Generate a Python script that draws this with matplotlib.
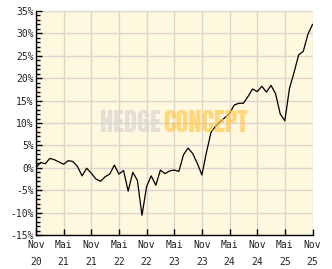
import matplotlib
matplotlib.use("Agg")
import matplotlib.pyplot as plt
import numpy as np

# Monthly performance (%) from Nov 2020 to Nov 2025
values = [0.0, 1.2, 0.9, 2.1, 1.8, 1.3, 0.8, 1.6, 1.4, 0.3,
          -1.8, -0.1, -1.2, -2.5, -3.0, -2.0, -1.4, 0.6, -1.4, -0.6,
          -5.2, -1.0, -2.8, -10.6, -4.2, -1.8, -3.9, -0.5, -1.3, -0.7,
          -0.5, -0.8, 2.9, 4.4, 3.2, 1.0, -1.6, 3.5, 8.0, 9.3,
          10.3, 11.2, 12.1, 14.0, 14.4, 14.4, 15.9, 17.6, 17.0, 18.2,
          16.9, 18.4, 16.5, 12.0, 10.5, 17.7, 21.3, 25.2, 26.0, 29.8,
          32.0]
months = list(range(len(values)))

x_tick_pos = [0, 6, 12, 18, 24, 30, 36, 42, 48, 54, 60]
x_tick_top = ["Nov", "Mai", "Nov", "Mai", "Nov", "Mai", "Nov", "Mai", "Nov", "Mai", "Nov"]
x_tick_bot = ["20", "21", "21", "22", "22", "23", "23", "24", "24", "25", "25"]
y_ticks = [-15, -10, -5, 0, 5, 10, 15, 20, 25, 30, 35]
y_labels = ["-15%", "-10%", "-5%", "0%", "5%", "10%", "15%", "20%", "25%", "30%", "35%"]

fig = plt.figure(figsize=(3.32, 2.69), dpi=100)
ax = fig.add_axes([36/332, 34/269, 276.5/332, 224/269])
ax.set_facecolor("#FFF7DE")

ax.plot(months, values, color="black", lw=0.9, zorder=3)

ax.set_xlim(0, 60)
ax.set_ylim(-15, 35)

ax.set_xticks(x_tick_pos)
ax.set_xticklabels([])
ax.set_yticks(y_ticks)
ax.set_yticklabels(y_labels, family="DejaVu Sans Mono", fontsize=7, color="#222222")
ax.set_yticks(np.arange(-15, 36, 1), minor=True)

ax.tick_params(axis="y", which="major", direction="in", length=4, width=1, pad=1.5, color="black")
ax.tick_params(axis="y", which="minor", direction="in", length=3, width=1, color="black")
ax.tick_params(axis="x", which="major", direction="in", length=4, width=1, color="black")

ax.grid(True, which="major", color="#D9D6D0", lw=1.0, zorder=0)
ax.set_axisbelow(True)

for s in ["top", "right"]:
    ax.spines[s].set_visible(False)
for s in ["left", "bottom"]:
    ax.spines[s].set_color("black")
    ax.spines[s].set_linewidth(1.0)
    ax.spines[s].set_zorder(4)

trans = ax.get_xaxis_transform()
for p, t, b in zip(x_tick_pos, x_tick_top, x_tick_bot):
    ax.text(p, -0.045, t, transform=trans, ha="center", va="center",
            family="DejaVu Sans Mono", fontsize=7, color="#222222", clip_on=False)
    ax.text(p, -0.12, b, transform=trans, ha="center", va="center",
            family="DejaVu Sans Mono", fontsize=7, color="#222222", clip_on=False)

# Watermark
wm_fam = ["Anton", "Oswald", "Barlow Condensed", "DejaVu Sans"]
fig.text(161/332, 1 - 123/269, "HEDGE", ha="right", va="center", fontsize=19,
         family=wm_fam, color="#D8D6D0", alpha=0.7, zorder=10)
fig.text(163/332, 1 - 123/269, "CONCEPT", ha="left", va="center", fontsize=19,
         family=wm_fam, color="#FFC850", alpha=0.7, zorder=10)

fig.savefig("out.png", dpi=100)
